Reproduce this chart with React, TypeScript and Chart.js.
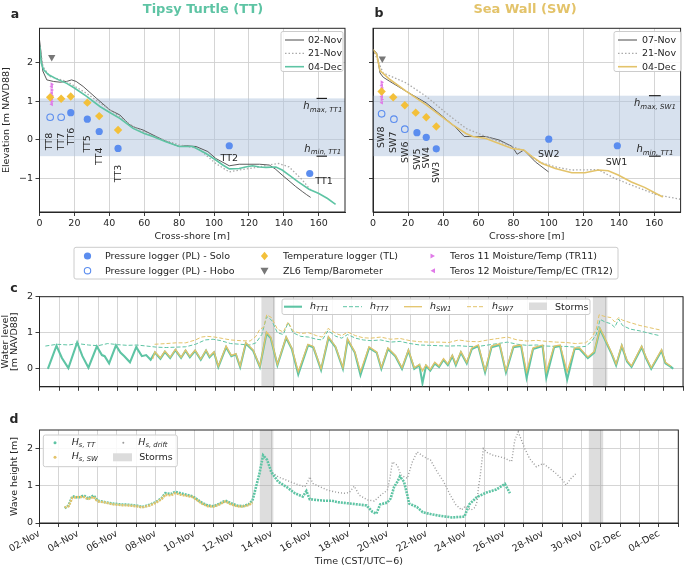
import React, { useEffect, useRef } from 'react';
import { Chart, registerables } from 'chart.js';

Chart.register(...registerables);

// ---------------- panel a : Tipsy Turtle profiles ----------------
const ttNov02X = [0, 0.8, 1.8, 4.2, 8, 11.8, 15.6, 18.4, 21, 25, 32.7, 40.3, 46, 51.7, 55, 59.3, 65, 72.6, 80, 84, 89.7, 96.4, 101, 108.7, 114.4, 120, 126, 131.6, 135, 139, 146.8, 150.6, 153, 155.3];
const ttNov02Y = [2.6, 2.3, 1.8, 1.56, 1.52, 1.5, 1.52, 1.56, 1.52, 1.39, 1.08, 0.78, 0.65, 0.39, 0.32, 0.26, 0.13, -0.04, -0.17, -0.15, -0.17, -0.3, -0.48, -0.67, -0.63, -0.63, -0.63, -0.65, -0.75, -0.91, -1.21, -1.34, -1.42, -1.49];
const ttNov21X = [0, 2, 6, 15.6, 27, 40.3, 53.6, 65, 80, 91, 96, 101, 108.7, 114.4, 126, 131, 137, 143, 150.6, 156];
const ttNov21Y = [2.5, 1.9, 1.65, 1.52, 1.21, 0.78, 0.35, 0.1, -0.13, -0.22, -0.42, -0.61, -0.83, -0.78, -0.7, -0.65, -0.61, -0.7, -1.04, -1.34];
const ttDec04X = [0, 0.4, 1, 2.3, 5, 10, 15.6, 20, 27, 34.6, 40, 46, 53.6, 60, 65, 72, 80, 87.8, 95.4, 101, 105, 108.7, 114.4, 118, 122, 126, 129.7, 135.4, 139, 143, 148, 154.4, 160, 165, 169.6];
const ttDec04Y = [2.45, 2.3, 2.0, 1.83, 1.7, 1.58, 1.47, 1.35, 1.13, 0.87, 0.72, 0.56, 0.3, 0.17, 0.09, -0.04, -0.17, -0.17, -0.35, -0.52, -0.65, -0.75, -0.74, -0.7, -0.67, -0.7, -0.71, -0.7, -0.78, -0.91, -1.08, -1.28, -1.39, -1.52, -1.67];

const ttSoloX = [17.9, 27.4, 34.2, 45, 108.7, 154.8];
const ttSoloY = [0.71, 0.54, 0.22, -0.22, -0.15, -0.87];
const ttHoboX = [6.1, 12.4];
const ttHoboY = [0.59, 0.59];
const ttTempX = [6.1, 12.4, 17.9, 27.4, 34.2, 45];
const ttTempY = [1.11, 1.07, 1.13, 0.97, 0.62, 0.26];
const ttZl6X = [7];
const ttZl6Y = [2.15];
const ttTr11X = [7, 7, 7, 7];
const ttTr11Y = [1.45, 1.3, 1.15, 1.0];
const ttTr12X = [7, 7, 7, 7];
const ttTr12Y = [1.38, 1.22, 1.08, 0.93];
const ttHmax = 1.08;
const ttHmin = -0.42;

// ---------------- panel b : Sea Wall profiles ----------------
const swNov07X = [0, 2.1, 4, 5.8, 9.6, 19, 30.3, 39.7, 47.2, 51.9, 54.8, 64.2, 71.7, 79.2, 82, 85.8, 92.4, 99.9];
const swNov07Y = [2.35, 2.26, 1.74, 1.63, 1.52, 1.26, 0.96, 0.61, 0.32, 0.09, 0.09, 0.09, 0, -0.17, -0.37, -0.26, -0.57, -0.83];
const swNov21X = [0, 5.8, 19, 30.3, 41.6, 52.9, 64.2, 79.2, 86.8, 94.3, 103.7, 113.1, 128.2, 137.6, 147, 162, 175];
const swNov21Y = [2.35, 1.74, 1.48, 1.13, 0.7, 0.3, 0.09, -0.17, -0.3, -0.57, -0.7, -0.78, -0.77, -1.0, -1.17, -1.43, -1.54];
const swDec04X = [0, 2.1, 4, 9.6, 19, 30.3, 37.8, 45.4, 52.9, 56.7, 64.2, 71.7, 79.2, 85.8, 90.5, 96.2, 103.7, 113.1, 120.6, 128.2, 133.8, 139.5, 147, 154.5, 160.2, 164.9];
const swDec04Y = [2.35, 2.22, 1.8, 1.57, 1.26, 0.91, 0.65, 0.39, 0.17, 0.09, 0.04, -0.09, -0.22, -0.26, -0.43, -0.61, -0.74, -0.85, -0.85, -0.78, -0.8, -0.91, -1.09, -1.23, -1.37, -1.48];

const swSoloX = [25, 30.3, 36, 100, 139];
const swSoloY = [0.19, 0.07, -0.23, 0.02, -0.15];
const swHoboX = [4.9, 11.9, 18.1];
const swHoboY = [0.68, 0.54, 0.28];
const swTempX = [4.9, 11.5, 18.1, 24.3, 30.3, 36];
const swTempY = [1.26, 1.11, 0.9, 0.71, 0.59, 0.35];
const swZl6X = [5.3];
const swZl6Y = [2.11];
const swTr11X = [5, 5, 5, 5];
const swTr11Y = [1.5, 1.35, 1.2, 1.05];
const swTr12X = [5, 5, 5, 5];
const swTr12Y = [1.42, 1.28, 1.12, 0.97];
const swHmax = 1.15;
const swHmin = -0.42;

// ---------------- panel c : water levels (days since 02-Nov 00:00) ----------------
const hTT1: number[][] = [
  [0.43, 0.0], [0.87, 0.64], [1.15, 0.3], [1.48, 0.02], [1.93, 0.73], [2.2, 0.35], [2.51, 0.03], [2.94, 0.62], [3.2, 0.38], [3.34, 0.35],
  [3.57, 0.15], [3.92, 0.65], [4.15, 0.45], [4.35, 0.35], [4.64, 0.18], [4.96, 0.6], [5.25, 0.35], [5.47, 0.38], [5.7, 0.25], [5.92, 0.45],
  [6.2, 0.28], [6.43, 0.47], [6.7, 0.3], [6.97, 0.52], [7.26, 0.3], [7.49, 0.5], [7.71, 0.32], [7.98, 0.5], [8.27, 0.25], [8.54, 0.5],
  [8.72, 0.32], [8.95, 0.45], [9.17, 0.05], [9.57, 0.6], [9.84, 0.35], [10.07, 0.4], [10.29, 0.05], [10.58, 0.7], [10.96, 0.5], [11.3, 0.05],
  [11.64, 0.98], [11.86, 0.85], [12.2, 0.1], [12.65, 0.86], [12.94, 0.55], [13.27, -0.15], [13.77, 0.65], [14.04, 0.6], [14.44, -0.03], [14.82, 0.86],
  [15.18, 0.6], [15.56, 0.0], [15.8, 0.8], [16.17, 0.45], [16.46, -0.17], [16.9, 0.58], [17.29, 0.45], [17.53, 0.0], [17.87, 0.55], [18.25, 0.35],
  [18.59, 0.0], [18.92, 0.5], [19.22, 0.0], [19.48, 0.1], [19.64, -0.4], [19.82, 0.08], [20.04, -0.05], [20.27, 0.15], [20.49, 0.05], [20.72, 0.25],
  [20.94, 0.1], [21.17, 0.35], [21.35, 0.1], [21.61, 0.45], [21.91, 0.15], [22.17, 0.55], [22.5, 0.63], [22.85, -0.1], [23.18, 0.6], [23.6, 0.66],
  [23.92, -0.1], [24.3, 0.6], [24.7, 0.63], [24.98, -0.25], [25.31, 0.55], [25.8, 0.63], [25.99, -0.25], [26.39, 0.6], [26.7, 0.63], [27.06, -0.3],
  [27.44, 0.55], [27.7, 0.55], [28.12, 0.3], [28.45, 0.45], [28.74, 1.1], [29.01, 0.8], [29.35, 0.4], [29.57, 0.1], [29.86, 0.63], [30.13, 0.2],
  [30.36, 0.05], [30.88, 0.6], [31.1, 0.3], [31.37, 0.0], [31.9, 0.5], [32.1, 0.15], [32.38, 0.05], [32.5, 0.0]
];
const hSW1: number[][] = [
  [5.8, 0.27], [5.92, 0.47], [6.2, 0.3], [6.43, 0.49], [6.7, 0.32], [6.97, 0.54], [7.26, 0.32], [7.49, 0.52], [7.71, 0.34], [7.98, 0.52],
  [8.27, 0.27], [8.54, 0.52], [8.72, 0.34], [8.95, 0.47], [9.17, 0.07], [9.57, 0.63], [9.84, 0.37], [10.07, 0.42], [10.29, 0.07], [10.58, 0.73],
  [10.96, 0.52], [11.3, 0.07], [11.64, 1.02], [11.86, 0.88], [12.2, 0.12], [12.65, 0.89], [12.94, 0.57], [13.27, -0.08], [13.77, 0.68], [14.04, 0.62],
  [14.44, 0.0], [14.82, 0.89], [15.18, 0.62], [15.56, 0.03], [15.8, 0.83], [16.17, 0.47], [16.46, -0.08], [16.9, 0.61], [17.29, 0.47], [17.53, 0.03],
  [17.87, 0.58], [18.25, 0.37], [18.59, 0.03], [18.92, 0.53], [19.22, 0.03], [19.48, 0.12], [19.64, -0.06], [19.82, 0.11], [20.04, -0.02], [20.27, 0.18],
  [20.49, 0.08], [20.72, 0.28], [20.94, 0.13], [21.17, 0.38], [21.35, 0.13], [21.61, 0.48], [21.91, 0.18], [22.17, 0.58], [22.5, 0.66], [22.85, -0.05],
  [23.18, 0.63], [23.6, 0.69], [23.92, -0.05], [24.3, 0.63], [24.7, 0.66], [24.98, -0.08], [25.31, 0.58], [25.8, 0.66], [25.99, -0.08], [26.39, 0.63],
  [26.7, 0.66], [27.06, -0.08], [27.44, 0.58], [27.7, 0.58], [28.12, 0.33], [28.45, 0.48], [28.74, 1.13], [29.01, 0.83], [29.35, 0.43], [29.57, 0.13],
  [29.86, 0.66], [30.13, 0.23], [30.36, 0.08], [30.88, 0.63], [31.1, 0.33], [31.37, 0.03], [31.9, 0.53], [32.1, 0.18], [32.38, 0.07]
];
const hTT7: number[][] = [
  [0.3, 0.63], [0.9, 0.68], [1.5, 0.66], [1.95, 0.7], [2.5, 0.66], [3.0, 0.64], [3.5, 0.7], [4.0, 0.67], [4.5, 0.65], [5.0, 0.66],
  [5.5, 0.63], [6.0, 0.6], [6.5, 0.59], [7.0, 0.6], [7.5, 0.61], [8.0, 0.68], [8.5, 0.8], [8.9, 0.82], [9.3, 0.78], [9.8, 0.7],
  [10.3, 0.68], [10.8, 0.66], [11.1, 0.72], [11.4, 0.95], [11.65, 1.45], [11.9, 1.35], [12.2, 1.0], [12.5, 0.95], [12.75, 1.28], [13.0, 1.0],
  [13.4, 0.9], [13.8, 0.88], [14.2, 0.82], [14.5, 0.8], [14.8, 1.06], [15.2, 0.9], [15.5, 0.85], [15.8, 0.95], [16.2, 0.85], [16.6, 0.8],
  [17.0, 0.78], [17.5, 0.8], [18.0, 0.74], [18.5, 0.76], [19.0, 0.7], [19.5, 0.66], [20.0, 0.65], [20.5, 0.64], [21.0, 0.63], [21.5, 0.64],
  [22.0, 0.62], [22.5, 0.62], [23.0, 0.66], [23.5, 0.7], [24.0, 0.74], [24.5, 0.68], [25.0, 0.65], [25.5, 0.66], [26.0, 0.63], [26.5, 0.62],
  [27.0, 0.62], [27.5, 0.6], [28.0, 0.62], [28.3, 0.75], [28.55, 0.95], [28.75, 1.37], [29.0, 1.3], [29.3, 1.25], [29.5, 1.15], [29.7, 1.38],
  [29.9, 1.2], [30.3, 1.1], [30.8, 1.05], [31.3, 0.98], [31.8, 0.92]
];
const hSW7: number[][] = [
  [5.9, 0.68], [6.5, 0.7], [7.0, 0.72], [7.5, 0.72], [8.0, 0.8], [8.3, 0.88], [8.6, 0.9], [9.0, 0.88], [9.4, 0.84], [9.8, 0.8],
  [10.3, 0.78], [10.8, 0.77], [11.1, 0.9], [11.3, 1.1], [11.5, 1.15], [11.65, 1.5], [11.9, 1.42], [12.2, 1.1], [12.5, 1.02], [12.75, 1.3],
  [13.0, 1.05], [13.4, 0.98], [13.8, 1.0], [14.2, 0.92], [14.5, 0.88], [14.8, 1.12], [15.2, 0.98], [15.5, 0.92], [15.8, 1.02], [16.2, 0.92],
  [16.6, 0.86], [17.0, 0.85], [17.5, 0.88], [18.0, 0.82], [18.5, 0.84], [19.0, 0.78], [19.5, 0.75], [20.0, 0.74], [20.5, 0.74], [21.0, 0.73],
  [21.5, 0.8], [22.0, 0.76], [22.5, 0.75], [23.0, 0.8], [23.5, 0.84], [24.0, 0.88], [24.5, 0.8], [25.0, 0.77], [25.5, 0.79], [26.0, 0.76],
  [26.5, 0.74], [27.0, 0.73], [27.5, 0.7], [28.0, 0.72], [28.3, 0.85], [28.55, 1.1], [28.7, 1.5], [29.0, 1.45], [29.3, 1.42], [29.5, 1.3],
  [29.7, 1.42], [29.9, 1.35], [30.3, 1.28], [30.8, 1.2], [31.3, 1.14], [31.8, 1.08]
];

// ---------------- panel d : wave heights ----------------
const hsTT: number[][] = [
  [1.3, 0.4], [1.5, 0.47], [1.7, 0.72], [2.0, 0.68], [2.3, 0.74], [2.5, 0.66], [2.8, 0.74], [3.0, 0.6], [3.4, 0.56], [3.8, 0.52],
  [4.2, 0.5], [4.6, 0.49], [5.0, 0.47], [5.3, 0.43], [5.7, 0.49], [6.0, 0.56], [6.3, 0.66], [6.5, 0.8], [6.8, 0.78], [7.0, 0.84],
  [7.3, 0.8], [7.6, 0.76], [7.9, 0.72], [8.1, 0.65], [8.4, 0.54], [8.7, 0.47], [9.0, 0.45], [9.3, 0.52], [9.6, 0.6], [9.9, 0.53],
  [10.2, 0.47], [10.5, 0.45], [10.8, 0.5], [11.0, 0.6], [11.15, 0.9], [11.35, 1.3], [11.55, 1.82], [11.75, 1.7], [12.0, 1.35], [12.33, 1.11],
  [12.76, 0.97], [13.19, 0.8], [13.6, 0.71], [13.79, 0.86], [13.96, 0.64], [14.3, 0.62], [14.73, 0.6], [15.1, 0.6], [15.41, 0.56], [15.92, 0.53],
  [16.44, 0.5], [16.9, 0.47], [17.2, 0.3], [17.4, 0.25], [17.6, 0.5], [17.97, 0.55], [18.14, 0.66], [18.32, 0.97], [18.49, 1.11], [18.62, 1.25],
  [18.83, 1.11], [19.0, 0.75], [19.1, 0.52], [19.5, 0.43], [19.8, 0.29], [20.2, 0.24], [20.6, 0.2], [21.3, 0.15], [21.95, 0.17], [22.2, 0.5],
  [22.6, 0.7], [23.1, 0.82], [23.6, 0.9], [24.04, 1.05], [24.2, 0.9], [24.3, 0.8]
];
const hsSW: number[][] = [
  [1.3, 0.42], [1.5, 0.45], [1.7, 0.68], [2.0, 0.7], [2.3, 0.7], [2.5, 0.64], [2.8, 0.7], [3.0, 0.58], [3.4, 0.55], [3.8, 0.5],
  [4.2, 0.48], [4.6, 0.47], [5.0, 0.45], [5.3, 0.42], [5.7, 0.47], [6.0, 0.54], [6.3, 0.64], [6.5, 0.76], [6.8, 0.74], [7.0, 0.8],
  [7.3, 0.76], [7.6, 0.73], [7.9, 0.7], [8.1, 0.63], [8.4, 0.52], [8.7, 0.45], [9.0, 0.44], [9.3, 0.5], [9.6, 0.58], [9.9, 0.5],
  [10.2, 0.45], [10.5, 0.44], [10.8, 0.48], [11.0, 0.55]
];
const hsDrift: number[][] = [
  [11.9, 1.4], [12.33, 1.24], [12.76, 1.15], [13.19, 1.06], [13.7, 0.97], [13.85, 1.1], [13.96, 1.24], [14.13, 1.06], [14.9, 0.88], [15.4, 0.82],
  [15.75, 0.8], [16.0, 0.82], [16.26, 0.99], [16.52, 0.75], [16.95, 0.62], [17.29, 0.59], [17.63, 0.75], [17.97, 0.88], [18.1, 1.2], [18.23, 1.64],
  [18.49, 1.55], [18.66, 1.29], [19.0, 1.2], [19.26, 1.64], [19.51, 1.91], [19.86, 1.78], [20.2, 1.69], [20.54, 1.38], [20.88, 1.11], [21.22, 0.75],
  [21.5, 0.5], [21.8, 0.35], [22.0, 0.45], [22.3, 0.35], [22.5, 0.42], [22.6, 0.57], [22.68, 0.97], [22.76, 1.24], [22.93, 2.0], [23.1, 1.9],
  [23.44, 1.82], [23.78, 1.78], [24.04, 1.74], [24.39, 1.65], [24.55, 2.22], [24.73, 2.45], [25.07, 2.0], [25.32, 1.73], [25.67, 1.51], [26.01, 1.6],
  [26.35, 1.47], [26.69, 1.33], [27.04, 1.15], [27.2, 1.02], [27.46, 1.2], [27.72, 1.33]
];

const stormStart = [11.38, 28.38];
const stormEnd = [12.08, 29.12];
const dateTickDays = [0, 2, 4, 6, 8, 10, 12, 14, 16, 18, 20, 22, 24, 26, 28, 30, 32];
const dateTickLabels = ['02-Nov', '04-Nov', '06-Nov', '08-Nov', '10-Nov', '12-Nov', '14-Nov', '16-Nov', '18-Nov', '20-Nov', '22-Nov', '24-Nov', '26-Nov', '28-Nov', '30-Nov', '02-Dec', '04-Dec'];

// ---------------- styles ----------------
const FONT = "'DejaVu Sans', Verdana, sans-serif";
const INK = '#262626';
const TEAL = '#5ec4a4';
const GOLD = '#e3c36a';
const DIAMOND = '#f3c03a';
const BLUE = '#5b8def';
const GREY_TRI = '#777777';
const PINK = '#e07ae8';
const GRID = '#d0d0d0';
const BAND = 'rgba(176,196,222,0.5)';
const STORM = 'rgba(165,165,165,0.38)';
const tickFont = { family: FONT, size: 9.5 };

const xy = (xs: number[], ys: number[]) => xs.map((x, i) => ({ x, y: ys[i] }));
const pairs = (p: number[][]) => p.map(([x, y]) => ({ x, y }));
const keepMultiples = (step: number) => (scale: any) => {
  scale.ticks = scale.ticks.filter((t: any) => Math.abs(t.value / step - Math.round(t.value / step)) < 1e-6);
};
const minusFmt = (v: any) => {
  const n = Number(v);
  return n < 0 ? '\u2212' + Math.abs(n) : String(n);
};
const gridOpts = { color: GRID, lineWidth: 0.9, tickColor: INK, tickLength: 4, drawTicks: true };
const borderOpts = { display: true, color: INK, width: 1 };

function drawFrame(chart: any) {
  const { ctx, chartArea: a } = chart;
  ctx.save();
  ctx.strokeStyle = INK;
  ctx.lineWidth = 1;
  ctx.strokeRect(a.left, a.top, a.right - a.left, a.bottom - a.top);
  ctx.restore();
}

function drawSub(ctx: any, cx: number, cy: number, main: string, sub: string) {
  ctx.font = `italic 10px ${FONT}`;
  const w1 = ctx.measureText(main).width;
  ctx.font = `italic 7px ${FONT}`;
  const w2 = ctx.measureText(sub).width;
  const x0 = cx - (w1 + w2) / 2;
  ctx.textAlign = 'left';
  ctx.textBaseline = 'alphabetic';
  ctx.font = `italic 10px ${FONT}`;
  ctx.fillText(main, x0, cy + 3.5);
  ctx.font = `italic 7px ${FONT}`;
  ctx.fillText(sub, x0 + w1, cy + 6);
}

function lineDs(data: any[], color: string, width: number, order: number, dash: number[] = []) {
  return { data, showLine: true, borderColor: color, borderWidth: width, borderDash: dash, pointRadius: 0, tension: 0, fill: false, order };
}
function markerDs(data: any[], style: string, radius: number, fill: string, stroke: string, bw: number, rotation = 0) {
  return {
    data, showLine: false, pointStyle: style, pointRadius: radius, pointHoverRadius: radius,
    pointBackgroundColor: fill, pointBorderColor: stroke, pointBorderWidth: bw, pointRotation: rotation, order: 0
  };
}

function profileConfig(isA: boolean) {
  const deco = isA
    ? {
        hmax: ttHmax, hmin: ttHmin, segX0: 158.7, segX1: 164.7,
        rot: [['TT8', 5.7, -0.04], ['TT7', 12.4, -0.04], ['TT6', 18.1, 0.09], ['TT5', 27.6, -0.1], ['TT4', 34.2, -0.42], ['TT3', 45, -0.87]],
        flat: [['TT2', 108.7, -0.48], ['TT1', 163, -1.08]],
        hl: [['max, TT1', 162.3, 0.89], ['min, TT1', 162.3, -0.22]]
      }
    : {
        hmax: swHmax, hmin: swHmin, segX0: 157, segX1: 163.7,
        rot: [['SW8', 4.9, 0.07], ['SW7', 11.5, -0.06], ['SW6', 18.3, -0.32], ['SW5', 25.2, -0.5], ['SW4', 30.7, -0.46], ['SW3', 36.3, -0.84]],
        flat: [['SW2', 100, -0.39], ['SW1', 138.5, -0.58]],
        hl: [['max, SW1', 160.4, 0.97], ['min, TT1', 160.4, -0.23]]
      };
  const plugin = {
    id: 'profileDeco',
    beforeDatasetsDraw(chart: any) {
      const { ctx, chartArea: a, scales: { y } } = chart;
      const y0 = y.getPixelForValue(deco.hmax);
      const y1 = y.getPixelForValue(deco.hmin);
      ctx.save();
      ctx.fillStyle = BAND;
      ctx.fillRect(a.left, y0, a.right - a.left, y1 - y0);
      ctx.restore();
    },
    afterDatasetsDraw(chart: any) {
      const { ctx, scales: { x, y } } = chart;
      ctx.save();
      ctx.strokeStyle = '#111';
      ctx.lineWidth = 1.1;
      [deco.hmax, deco.hmin].forEach((v) => {
        const py = y.getPixelForValue(v);
        ctx.beginPath();
        ctx.moveTo(x.getPixelForValue(deco.segX0), py);
        ctx.lineTo(x.getPixelForValue(deco.segX1), py);
        ctx.stroke();
      });
      ctx.fillStyle = INK;
      ctx.font = `9.5px ${FONT}`;
      ctx.textAlign = 'center';
      ctx.textBaseline = 'middle';
      deco.rot.forEach((l: any) => {
        ctx.save();
        ctx.translate(x.getPixelForValue(l[1]), y.getPixelForValue(l[2]));
        ctx.rotate(-Math.PI / 2);
        ctx.fillText(l[0], 0, 0);
        ctx.restore();
      });
      deco.flat.forEach((l: any) => ctx.fillText(l[0], x.getPixelForValue(l[1]), y.getPixelForValue(l[2])));
      deco.hl.forEach((l: any) => drawSub(ctx, x.getPixelForValue(l[1]), y.getPixelForValue(l[2]), 'h', l[0]));
      ctx.restore();
    },
    afterDraw: drawFrame
  };
  const lineColor = isA ? TEAL : GOLD;
  const datasets = isA
    ? [
        markerDs(xy(ttSoloX, ttSoloY), 'circle', 3.6, BLUE, BLUE, 0),
        markerDs(xy(ttHoboX, ttHoboY), 'circle', 3.3, 'rgba(255,255,255,0)', BLUE, 1.1),
        markerDs(xy(ttTempX, ttTempY), 'rectRot', 4.2, DIAMOND, DIAMOND, 0),
        markerDs(xy(ttZl6X, ttZl6Y), 'triangle', 4.2, GREY_TRI, GREY_TRI, 0, 180),
        markerDs(xy(ttTr11X, ttTr11Y), 'triangle', 2.3, PINK, PINK, 0, 90),
        markerDs(xy(ttTr12X, ttTr12Y), 'triangle', 2.3, PINK, PINK, 0, -90),
        lineDs(xy(ttDec04X, ttDec04Y), lineColor, 1.6, 1),
        lineDs(xy(ttNov21X, ttNov21Y), '#aaaaaa', 1.3, 2, [1.5, 2]),
        lineDs(xy(ttNov02X, ttNov02Y), '#4a4a4a', 0.9, 3)
      ]
    : [
        markerDs(xy(swSoloX, swSoloY), 'circle', 3.6, BLUE, BLUE, 0),
        markerDs(xy(swHoboX, swHoboY), 'circle', 3.3, 'rgba(255,255,255,0)', BLUE, 1.1),
        markerDs(xy(swTempX, swTempY), 'rectRot', 4.2, DIAMOND, DIAMOND, 0),
        markerDs(xy(swZl6X, swZl6Y), 'triangle', 4.2, GREY_TRI, GREY_TRI, 0, 180),
        markerDs(xy(swTr11X, swTr11Y), 'triangle', 2.3, PINK, PINK, 0, 90),
        markerDs(xy(swTr12X, swTr12Y), 'triangle', 2.3, PINK, PINK, 0, -90),
        lineDs(xy(swDec04X, swDec04Y), lineColor, 1.6, 1),
        lineDs(xy(swNov21X, swNov21Y), '#aaaaaa', 1.3, 2, [1.5, 2]),
        lineDs(xy(swNov07X, swNov07Y), '#4a4a4a', 0.9, 3)
      ];
  return {
    type: 'scatter',
    data: { datasets },
    plugins: [plugin],
    options: {
      animation: false, responsive: false, devicePixelRatio: 1,
      layout: { padding: { top: 8.3, right: isA ? 5 : 2, left: 0, bottom: 0 } },
      plugins: { legend: { display: false }, tooltip: { enabled: false } },
      scales: {
        x: {
          type: 'linear', min: 0, max: 175,
          afterBuildTicks: keepMultiples(20),
          afterFit: (s: any) => { s.height = 33; },
          ticks: { stepSize: 20, font: tickFont, color: INK, padding: 2, maxRotation: 0, autoSkip: false },
          grid: gridOpts, border: borderOpts,
          title: { display: true, text: 'Cross-shore [m]', font: tickFont, color: INK, padding: { top: 0, bottom: 2.3 } }
        },
        y: {
          type: 'linear', min: -1.87, max: 2.9,
          afterBuildTicks: keepMultiples(1),
          afterFit: (s: any) => { s.width = isA ? 39.5 : 33; },
          ticks: { stepSize: 1, display: isA, font: tickFont, color: INK, padding: 2.5, callback: minusFmt },
          grid: gridOpts, border: borderOpts,
          title: { display: isA, text: 'Elevation [m NAVD88]', font: tickFont, color: INK, padding: { top: 1, bottom: 0 } }
        }
      }
    }
  };
}

const stormPlugin = {
  id: 'storms',
  beforeDatasetsDraw(chart: any) {
    const { ctx, chartArea: a, scales: { x } } = chart;
    ctx.save();
    ctx.fillStyle = STORM;
    stormStart.forEach((s, i) => {
      const x0 = x.getPixelForValue(s);
      const x1 = x.getPixelForValue(stormEnd[i]);
      ctx.fillRect(x0, a.top, x1 - x0, a.bottom - a.top);
    });
    ctx.restore();
  },
  afterDraw: drawFrame
};

function timeXScale(showLabels: boolean, xHeight: number) {
  return {
    type: 'linear', min: 0, max: 33,
    afterBuildTicks: keepMultiples(1),
    afterFit: (s: any) => { s.height = xHeight; },
    ticks: {
      stepSize: 1, display: showLabels, autoSkip: false, font: tickFont, color: INK, padding: 1,
      minRotation: 30, maxRotation: 30,
      callback: (v: any) => {
        const i = dateTickDays.indexOf(Number(v));
        return i >= 0 ? dateTickLabels[i] : '';
      }
    },
    grid: gridOpts, border: borderOpts,
    title: { display: showLabels, text: 'Time (CST/UTC\u22126)', font: tickFont, color: INK, padding: { top: 0, bottom: 2.3 } }
  };
}

function waterConfig() {
  return {
    type: 'scatter',
    data: {
      datasets: [
        lineDs(pairs(hSW1), GOLD, 1.3, 0),
        lineDs(pairs(hTT1), TEAL, 2.1, 1),
        lineDs(pairs(hSW7), GOLD, 1.0, 2, [4, 2]),
        lineDs(pairs(hTT7), TEAL, 1.0, 3, [4, 2])
      ]
    },
    plugins: [stormPlugin],
    options: {
      animation: false, responsive: false, devicePixelRatio: 1,
      layout: { padding: { top: 11.7, right: 2, left: 0, bottom: 0 } },
      plugins: { legend: { display: false }, tooltip: { enabled: false } },
      scales: {
        x: timeXScale(false, 6.7),
        y: {
          type: 'linear', min: -0.5, max: 2,
          afterBuildTicks: keepMultiples(1),
          afterFit: (s: any) => { s.width = 39.5; },
          ticks: { stepSize: 1, font: tickFont, color: INK, padding: 2.5, callback: minusFmt },
          grid: gridOpts, border: borderOpts,
          title: { display: true, text: ['Water level', '[m NAVD88]'], font: { family: FONT, size: 9.5, lineHeight: 1.0 }, color: INK, padding: { top: 0.5, bottom: 0 } }
        }
      }
    }
  };
}

function waveConfig() {
  return {
    type: 'scatter',
    data: {
      datasets: [
        lineDs(pairs(hsSW), GOLD, 2.4, 0, [2, 1]),
        lineDs(pairs(hsTT), TEAL, 2.6, 1, [2, 1]),
        lineDs(pairs(hsDrift), '#9a9a9a', 1.4, 2, [1, 2])
      ]
    },
    plugins: [stormPlugin],
    options: {
      animation: false, responsive: false, devicePixelRatio: 1,
      layout: { padding: { top: 10, right: 2, left: 0, bottom: 0 } },
      plugins: { legend: { display: false }, tooltip: { enabled: false } },
      scales: {
        x: timeXScale(true, 47),
        y: {
          type: 'linear', min: 0, max: 2.5,
          afterBuildTicks: keepMultiples(1),
          afterFit: (s: any) => { s.width = 39.5; },
          ticks: { stepSize: 1, font: tickFont, color: INK, padding: 2.5, callback: minusFmt },
          grid: gridOpts, border: borderOpts,
          title: { display: true, text: 'Wave height [m]', font: tickFont, color: INK, padding: { top: 9.3, bottom: 0 } }
        }
      }
    }
  };
}

function ChartCanvas(props: { left: number; top: number; width: number; height: number; make: () => any }) {
  const ref = useRef<HTMLCanvasElement | null>(null);
  useEffect(() => {
    if (!ref.current) return;
    const chart = new Chart(ref.current, props.make() as any);
    return () => chart.destroy();
  }, []);
  return (
    <canvas
      ref={ref}
      width={props.width}
      height={props.height}
      style={{ position: 'absolute', left: props.left, top: props.top, width: props.width, height: props.height }}
    />
  );
}

const T = (p: { x: number; y: number; children: any; size?: number; center?: boolean; style?: any }) => (
  <div
    style={{
      position: 'absolute', left: p.x, top: p.y,
      transform: p.center ? 'translate(-50%,-50%)' : 'translateY(-50%)',
      fontSize: p.size || 9.5, lineHeight: 1, whiteSpace: 'nowrap', color: INK, ...(p.style || {})
    }}
  >
    {p.children}
  </div>
);

const Sym = (p: { main: string; sub: string }) => (
  <span>
    <i>{p.main}</i>
    <span style={{ fontSize: '0.72em', fontStyle: 'italic', position: 'relative', top: '0.35em' }}>{p.sub}</span>
  </span>
);

const diamond = (cx: number, cy: number, r: number) => `${cx},${cy - r} ${cx + r * 0.85},${cy} ${cx},${cy + r} ${cx - r * 0.85},${cy}`;

export default function App() {
  const legendFill = 'rgba(255,255,255,0.85)';
  const legendStroke = '#cccccc';
  return (
    <div style={{ position: 'absolute', left: 0, top: 0, width: 685, height: 570, background: '#ffffff', fontFamily: FONT, overflow: 'hidden' }}>
      <ChartCanvas left={0} top={20} width={350} height={225} make={() => profileConfig(true)} />
      <ChartCanvas left={340} top={20} width={345} height={225} make={() => profileConfig(false)} />
      <ChartCanvas left={0} top={285} width={685} height={110} make={waterConfig} />
      <ChartCanvas left={0} top={420} width={685} height={150} make={waveConfig} />

      <svg width={685} height={570} style={{ position: 'absolute', left: 0, top: 0, pointerEvents: 'none' }}>
        {/* panel a legend */}
        <rect x={281} y={31.5} width={62} height={40} rx={2} fill={legendFill} stroke={legendStroke} />
        <line x1={285} y1={40} x2={304} y2={40} stroke="#4a4a4a" strokeWidth={1} />
        <line x1={285} y1={53.3} x2={304} y2={53.3} stroke="#aaaaaa" strokeWidth={1.3} strokeDasharray="1.5 2" />
        <line x1={285} y1={66.7} x2={304} y2={66.7} stroke={TEAL} strokeWidth={1.6} />
        {/* panel b legend */}
        <rect x={614} y={31.5} width={67} height={40} rx={2} fill={legendFill} stroke={legendStroke} />
        <line x1={618} y1={40} x2={637} y2={40} stroke="#4a4a4a" strokeWidth={1} />
        <line x1={618} y1={53.3} x2={637} y2={53.3} stroke="#aaaaaa" strokeWidth={1.3} strokeDasharray="1.5 2" />
        <line x1={618} y1={66.7} x2={637} y2={66.7} stroke={GOLD} strokeWidth={1.6} />
        {/* shared sensor legend */}
        <rect x={74} y={247.3} width={544} height={31.7} rx={2} fill={legendFill} stroke={legendStroke} />
        <circle cx={87.5} cy={256} r={3.6} fill={BLUE} />
        <circle cx={87.5} cy={270.7} r={3.2} fill="none" stroke={BLUE} strokeWidth={1.1} />
        <polygon points={diamond(264.5, 256, 4.2)} fill={DIAMOND} />
        <polygon points="260.5,267.7 268.5,267.7 264.5,274.7" fill={GREY_TRI} />
        <polygon points="430.5,253.5 435,256 430.5,258.5" fill={PINK} />
        <polygon points="435,268.2 430.5,270.7 435,273.2" fill={PINK} />
        {/* panel c legend */}
        <rect x={282} y={299} width={308} height={15.5} rx={2} fill={legendFill} stroke={legendStroke} />
        <line x1={284} y1={306.7} x2={302} y2={306.7} stroke={TEAL} strokeWidth={2.1} />
        <line x1={343} y1={306.7} x2={362} y2={306.7} stroke={TEAL} strokeWidth={1} strokeDasharray="4 2" />
        <line x1={404} y1={306.7} x2={422} y2={306.7} stroke={GOLD} strokeWidth={1.3} />
        <line x1={467} y1={306.7} x2={485} y2={306.7} stroke={GOLD} strokeWidth={1} strokeDasharray="4 2" />
        <rect x={529} y={302.5} width={18} height={7.5} fill="#dcdcdc" />
        {/* panel d legend */}
        <rect x={43.3} y={435} width={134} height={31.7} rx={2} fill={legendFill} stroke={legendStroke} />
        <circle cx={55} cy={442.7} r={1.5} fill={TEAL} />
        <circle cx={55} cy={457.3} r={1.5} fill={GOLD} />
        <circle cx={123.3} cy={442.7} r={1} fill="#9a9a9a" />
        <rect x={113} y={453.3} width={19} height={8} fill="#dcdcdc" />
      </svg>

      {/* titles and panel letters */}
      <T x={203} y={8} center size={13} style={{ fontWeight: 'bold', color: TEAL }}>Tipsy Turtle (TT)</T>
      <T x={525} y={8} center size={13} style={{ fontWeight: 'bold', color: GOLD }}>Sea Wall (SW)</T>
      <T x={15} y={14} center size={12.5} style={{ fontWeight: 'bold' }}>a</T>
      <T x={379} y={13} center size={12.5} style={{ fontWeight: 'bold' }}>b</T>
      <T x={14} y={288} center size={12.5} style={{ fontWeight: 'bold' }}>c</T>
      <T x={14} y={419} center size={12.5} style={{ fontWeight: 'bold' }}>d</T>

      {/* legend texts a/b */}
      <T x={308} y={40}>02-Nov</T>
      <T x={308} y={53.3}>21-Nov</T>
      <T x={308} y={66.7}>04-Dec</T>
      <T x={642} y={40}>07-Nov</T>
      <T x={642} y={53.3}>21-Nov</T>
      <T x={642} y={66.7}>04-Dec</T>

      {/* shared legend texts */}
      <T x={105} y={256}>Pressure logger (PL) - Solo</T>
      <T x={105} y={270.7}>Pressure logger (PL) - Hobo</T>
      <T x={283} y={256}>Temperature logger (TL)</T>
      <T x={283} y={270.7}>ZL6 Temp/Barometer</T>
      <T x={450} y={256}>Teros 11 Moisture/Temp (TR11)</T>
      <T x={450} y={270.7}>Teros 12 Moisture/Temp/EC (TR12)</T>

      {/* panel c legend texts */}
      <T x={310} y={305.5}><Sym main="h" sub="TT1" /></T>
      <T x={370} y={305.5}><Sym main="h" sub="TT7" /></T>
      <T x={430} y={305.5}><Sym main="h" sub="SW1" /></T>
      <T x={492} y={305.5}><Sym main="h" sub="SW7" /></T>
      <T x={555} y={306.7}>Storms</T>

      {/* panel d legend texts */}
      <T x={71.7} y={441.5}><Sym main="H" sub="s, TT" /></T>
      <T x={71.7} y={456}><Sym main="H" sub="s, SW" /></T>
      <T x={138.3} y={441.5}><Sym main="H" sub="s, drift" /></T>
      <T x={139.3} y={457.3}>Storms</T>
    </div>
  );
}
